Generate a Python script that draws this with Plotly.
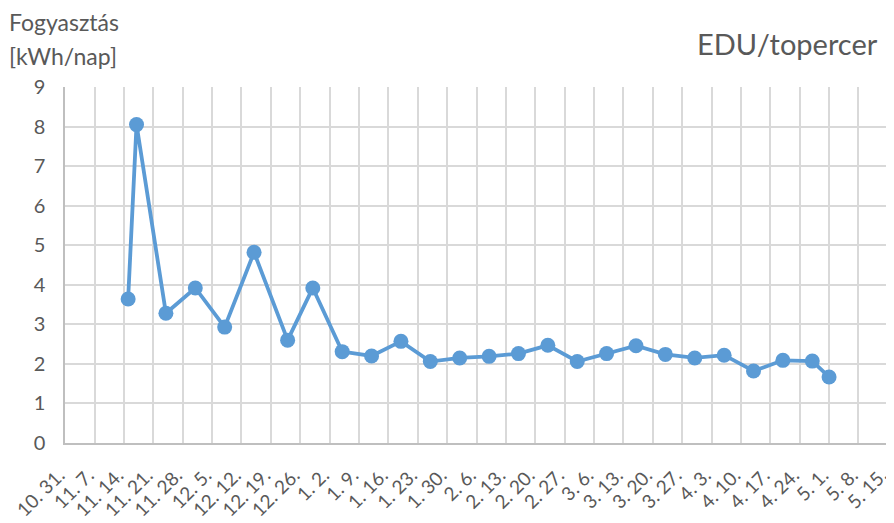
import plotly.graph_objects as go
import pandas as pd

# Data
dates = ["2021-11-15", "2021-11-17", "2021-11-24", "2021-12-01", "2021-12-08", "2021-12-15",
         "2021-12-23", "2021-12-29", "2022-01-05", "2022-01-12", "2022-01-19", "2022-01-26",
         "2022-02-02", "2022-02-09", "2022-02-16", "2022-02-23", "2022-03-02", "2022-03-09",
         "2022-03-16", "2022-03-23", "2022-03-30", "2022-04-06", "2022-04-13", "2022-04-20",
         "2022-04-27", "2022-05-01"]
values = [3.64, 8.05, 3.28, 3.92, 2.93, 4.82,
          2.60, 3.92, 2.31, 2.20, 2.57, 2.06,
          2.15, 2.19, 2.26, 2.47, 2.06, 2.26,
          2.46, 2.24, 2.15, 2.22, 1.82, 2.09,
          2.07, 1.67]

tick_dates = pd.date_range("2021-10-31", "2022-05-15", freq="7D")
tick_vals = [d.strftime("%Y-%m-%d") for d in tick_dates]
tick_labels = [f"{d.month}. {d.day}." for d in tick_dates]

title_text = "EDU/topercer"
y_title_lines = ["Fogyasztás", "[kWh/nap]"]

font_family = "Lato, 'Open Sans', sans-serif"
text_color = "#595959"
grid_color = "#D9D9D9"
line_color = "#5B9BD5"

# page body has an 8px default margin; work in screen coordinates and offset
OFF = 8
W, H = 894 - OFF, 523 - OFF
L, R, T, B = 65 - OFF, 6, 87 - OFF, 80
PW, PH = W - L - R, H - T - B


def px_x(x):
    return (x - OFF - L) / PW


def px_y(y):
    return (H - B - (y - OFF)) / PH


fig = go.Figure()
fig.add_trace(go.Scatter(
    x=dates, y=values, mode="lines+markers",
    line=dict(color=line_color, width=3.8),
    marker=dict(color=line_color, size=15),
    showlegend=False, cliponaxis=False,
))

fig.update_layout(
    width=W, height=H,
    margin=dict(l=L, r=R, t=T, b=B),
    paper_bgcolor="white", plot_bgcolor="white",
    font=dict(family=font_family, color=text_color, size=18),
    xaxis=dict(
        type="date",
        range=[(tick_dates[0] - pd.Timedelta(hours=1)).strftime("%Y-%m-%d %H:%M"),
               (tick_dates[-1] + pd.Timedelta(hours=1)).strftime("%Y-%m-%d %H:%M")],
        tickmode="array", tickvals=tick_vals, ticktext=tick_labels,
        tickangle=-45, automargin=False,
        ticklabelstandoff=12, ticklabelshift=-6, ticklabeloverflow="allow",
        showgrid=True, gridcolor=grid_color, gridwidth=1.5,
        showline=True, linecolor="#BFBFBF", linewidth=1.5,
        ticks="", zeroline=False,
        tickfont=dict(size=19, color=text_color),
    ),
    yaxis=dict(
        range=[0, 9], dtick=1, automargin=False,
        showgrid=True, gridcolor=grid_color, gridwidth=1.5,
        showline=True, linecolor="#BFBFBF", linewidth=1.5,
        ticks="", ticklabelstandoff=14,
        zeroline=False,
        tickfont=dict(size=20, color=text_color),
    ),
    annotations=[
        dict(text=title_text, xref="paper", yref="paper",
             x=px_x(880), y=px_y(44),
             xanchor="right", yanchor="middle", showarrow=False,
             font=dict(size=29, color=text_color, family=font_family)),
        dict(text=y_title_lines[0], xref="paper", yref="paper",
             x=px_x(7), y=px_y(22),
             xanchor="left", yanchor="middle", align="left", showarrow=False,
             font=dict(size=23, color=text_color, family=font_family)),
        dict(text=y_title_lines[1], xref="paper", yref="paper",
             x=px_x(7), y=px_y(56),
             xanchor="left", yanchor="middle", align="left", showarrow=False,
             font=dict(size=23, color=text_color, family=font_family)),
    ],
)

fig.write_html("out.html")
